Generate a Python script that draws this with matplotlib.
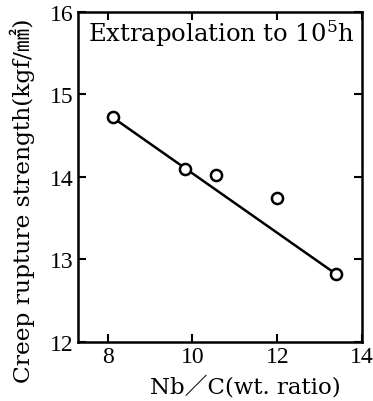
import matplotlib
matplotlib.use('Agg')
import matplotlib.pyplot as plt

# data
nb_c = [8.12, 9.83, 10.55, 12.0, 13.39]
strength = [14.72, 14.10, 14.02, 13.75, 12.82]

# fitted line end points
fit_x = [8.12, 13.39]
fit_y = [14.72, 12.82]

x_ticks = [8, 10, 12, 14]
y_ticks = [12, 13, 14, 15, 16]

plt.rcParams['font.family'] = ['Liberation Serif', 'Noto Sans CJK JP', 'DejaVu Sans']
plt.rcParams['mathtext.fontset'] = 'dejavuserif'
wide = ['DejaVu Serif', 'Noto Sans CJK JP']

fig = plt.figure(figsize=(3.73, 4.02), dpi=100)
ax = fig.add_axes([0.209, 0.147, 0.762, 0.821])

ax.plot(fit_x, fit_y, color='black', linewidth=1.8, zorder=2)
ax.plot(nb_c, strength, 'o', markersize=8, markerfacecolor='white',
        markeredgecolor='black', markeredgewidth=1.8, zorder=3)

ax.set_xlim(7.3, 14)
ax.set_ylim(12, 16)
ax.set_xticks(x_ticks)
ax.set_yticks(y_ticks)
ax.tick_params(direction='in', length=6, width=1.5, top=True, right=True,
               labelsize=17, pad=3)
for s in ax.spines.values():
    s.set_linewidth(1.8)

ax.text(0.035, 0.985, 'Extrapolation to 10$^5$h', transform=ax.transAxes,
        fontsize=17.5, va='top', ha='left', family=wide)

ax.set_xlabel('Nb／C(wt. ratio)', fontsize=16.5, family=wide)
ax.xaxis.set_label_coords(0.59, -0.1)
ax.set_ylabel('Creep rupture strength(kgf/㎟)', fontsize=16.8, family=wide)
ax.yaxis.set_label_coords(-0.15, 0.43)

plt.savefig('out.png', dpi=100, facecolor='white')
plt.close()
